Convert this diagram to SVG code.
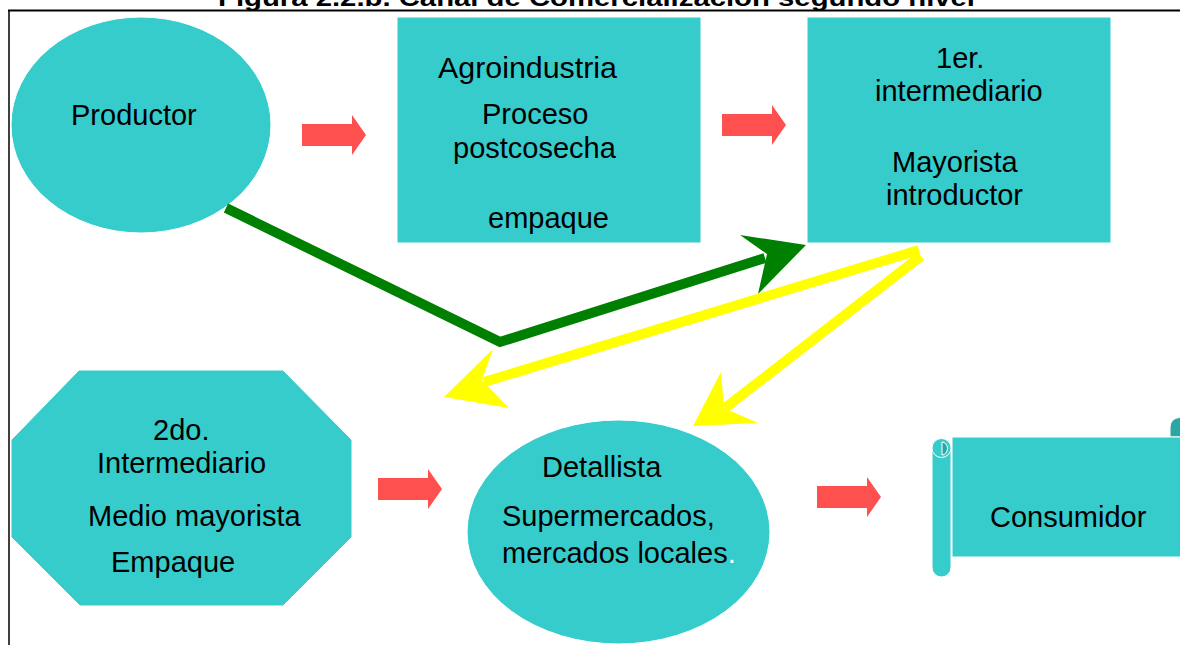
<svg xmlns="http://www.w3.org/2000/svg" width="1180" height="645" viewBox="0 0 1180 645">
<defs>
<style>
.shape{fill:#36CCCC;stroke:#ffffff;stroke-width:1}
.dark{fill:#2BA6A6;stroke:#ffffff;stroke-width:1}
.t{font-family:"Liberation Sans",Arial,sans-serif;font-size:29px;fill:#000}
.title{font-family:"Liberation Sans",Arial,sans-serif;font-size:24px;font-weight:bold;fill:#000}
.red{fill:#FF5050}
.green{fill:none;stroke:#008000;stroke-width:10;stroke-linejoin:miter}
.greenh{fill:#008000}
.yellow{fill:none;stroke:#FFFF00;stroke-width:10}
.yellowh{fill:#FFFF00}
</style>
<path id="blockArrow" d="M0,-11 H50 V-20 L64,0 L50,20 V11 H0 Z"/>
</defs>
<rect width="1180" height="645" fill="#ffffff"/>
<text class="title" x="218" y="6" textLength="757" lengthAdjust="spacingAndGlyphs">Figura 2.2.b. Canal de Comercialización segundo nivel</text>
<line x1="8" y1="10.5" x2="1180" y2="10.5" stroke="#000" stroke-width="2"/>
<line x1="9" y1="10" x2="9" y2="645" stroke="#000" stroke-width="1.5"/>

<g id="productor">
<ellipse class="shape" cx="141" cy="125" rx="130" ry="108"/>
<text class="t" x="71" y="125">Productor</text>
</g>

<g id="agroindustria">
<rect class="shape" x="397" y="17" width="304" height="226"/>
<text class="t" x="438" y="78" textLength="179" lengthAdjust="spacingAndGlyphs">Agroindustria</text>
<text class="t" x="482" y="124">Proceso</text>
<text class="t" x="453" y="158">postcosecha</text>
<text class="t" x="488" y="228">empaque</text>
</g>

<g id="intermediario1">
<rect class="shape" x="807" y="17" width="304" height="226"/>
<text class="t" x="936" y="68">1er.</text>
<text class="t" x="875" y="101">intermediario</text>
<text class="t" x="892" y="172">Mayorista</text>
<text class="t" x="886" y="205">introductor</text>
</g>

<g id="intermediario2">
<polygon class="shape" points="79,370 283,370 352,440 352,537 283,606 80,606 11,537 11,440"/>
<text class="t" x="153" y="440">2do.</text>
<text class="t" x="97" y="473">Intermediario</text>
<text class="t" x="88" y="526">Medio mayorista</text>
<text class="t" x="111" y="572">Empaque</text>
</g>

<g id="detallista">
<ellipse class="shape" cx="618.5" cy="532" rx="151.5" ry="112"/>
<text class="t" x="542" y="477">Detallista</text>
<text class="t" x="502" y="526">Supermercados,</text>
<text class="t" x="502" y="563">mercados locales<tspan fill="#ffffff">.</tspan></text>
</g>

<g id="consumidor">
<path class="dark" d="M1170,437 V427 A9.5,9.5 0 0 1 1189,427 V437 Z"/>
<rect class="shape" x="952" y="437" width="240" height="120"/>
<rect class="shape" x="932" y="438" width="19" height="139" rx="9.5"/>
<circle class="shape" cx="941.5" cy="448" r="9.5"/>
<path class="dark" d="M942,442 A5.5,6.5 0 0 1 942,455 Z"/>
<text class="t" x="990" y="527">Consumidor</text>
</g>

<g id="connectors">
<use href="#blockArrow" class="red" transform="translate(302,135)"/>
<use href="#blockArrow" class="red" transform="translate(722,125)"/>
<use href="#blockArrow" class="red" transform="translate(378,489)"/>
<use href="#blockArrow" class="red" transform="translate(817,497)"/>
<polyline class="green" points="226,208 500,342 765,258"/>
<polygon class="greenh" points="806,245 740,235 767,254 758,294"/>
<line class="yellow" x1="919" y1="250" x2="484" y2="382"/>
<polygon class="yellowh" points="444,397 493,349 482,380 509,408"/>
<line class="yellow" x1="921" y1="256" x2="725" y2="408"/>
<polygon class="yellowh" points="693,426 721,372 724,408 758,423"/>
</g>
</svg>
